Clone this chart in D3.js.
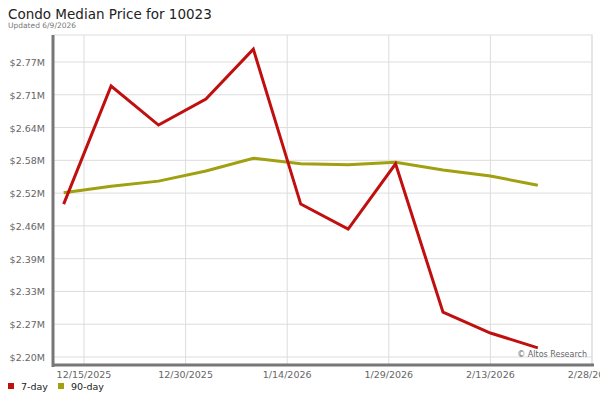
<!DOCTYPE html><html><head><meta charset="utf-8"><script src="https://d3js.org/d3.v7.min.js"></script>
<style>body{margin:0;background:#fff}text{font-family:"DejaVu Sans",sans-serif}</style></head><body><svg width="600" height="400"></svg><script>
const dates=["2025-12-12","2025-12-19","2025-12-26","2026-01-02","2026-01-09","2026-01-16","2026-01-23","2026-01-30","2026-02-06","2026-02-13","2026-02-20"];
const sevenDay=[2.500,2.7315,2.655,2.706,2.804,2.500,2.451,2.579,2.288,2.247,2.218];
const ninetyDay=[2.522,2.535,2.545,2.565,2.590,2.579,2.577,2.582,2.567,2.555,2.537];
const yTicks=[2.20,2.2643,2.3286,2.3929,2.4572,2.5215,2.5858,2.6501,2.7144,2.7787];
const yLabels=["$2.20M","$2.27M","$2.33M","$2.39M","$2.46M","$2.52M","$2.58M","$2.64M","$2.71M","$2.77M"];
const xTicks=["2025-12-15","2025-12-30","2026-01-14","2026-01-29","2026-02-13","2026-02-28"];
const xLabels=["12/15/2025","12/30/2025","1/14/2026","1/29/2026","2/13/2026","2/28/2026"];
const p=d3.timeParse("%Y-%m-%d");
const svg=d3.select("svg");
const L=53,R=592,T=35,B=365;
const x=d3.scaleTime().domain([p("2025-12-15"),p("2026-02-28")]).range([84,592]);
const y=d3.scaleLinear().domain([2.20,2.7787]).range([357,62]);
svg.append("text").attr("x",8).attr("y",19).attr("font-size",13.5).attr("fill","#222").text("Condo Median Price for 10023");
svg.append("text").attr("x",8).attr("y",28).attr("font-size",7.5).attr("fill","#777").text("Updated 6/9/2026");
svg.append("rect").attr("x",L).attr("y",T).attr("width",R-L).attr("height",B-T).attr("fill","none").attr("stroke","#ddd");
svg.selectAll(".gy").data(yTicks).enter().append("line").attr("x1",L).attr("x2",R).attr("y1",d=>y(d)).attr("y2",d=>y(d)).attr("stroke","#ddd");
svg.selectAll(".gx").data(xTicks).enter().append("line").attr("y1",T).attr("y2",B).attr("x1",d=>x(p(d))).attr("x2",d=>x(p(d))).attr("stroke","#ddd");
svg.selectAll(".yl").data(yTicks).enter().append("text").attr("x",45).attr("y",(d)=>y(d)+4).attr("text-anchor","end").attr("font-size",9.5).attr("fill","#666").text((d,i)=>yLabels[i]);
svg.selectAll(".xl").data(xTicks).enter().append("text").attr("x",d=>x(p(d))).attr("y",378).attr("text-anchor","middle").attr("font-size",9.5).attr("fill","#666").text((d,i)=>xLabels[i]);
svg.append("line").attr("x1",L).attr("x2",L).attr("y1",T).attr("y2",B+2).attr("stroke","#777").attr("stroke-width",3);
svg.append("line").attr("x1",L).attr("x2",R+2).attr("y1",B).attr("y2",B).attr("stroke","#777").attr("stroke-width",3);
const line=d3.line().x((d,i)=>x(p(dates[i]))).y(d=>y(d));
svg.append("path").datum(ninetyDay).attr("d",line).attr("fill","none").attr("stroke","#a0a010").attr("stroke-width",3);
svg.append("path").datum(sevenDay).attr("d",line).attr("fill","none").attr("stroke","#c00f0f").attr("stroke-width",3);
svg.append("text").attr("x",587).attr("y",357).attr("text-anchor","end").attr("font-size",8).attr("fill","#666").text("© Altos Research");
const lg=[["7-day","#c00f0f",8],["90-day","#a0a010",58]];
lg.forEach(([t,c,lx])=>{svg.append("rect").attr("x",lx).attr("y",383).attr("width",6).attr("height",6).attr("fill",c);
svg.append("text").attr("x",lx+13).attr("y",390).attr("font-size",9.5).attr("fill","#222").text(t);});
</script></body></html>
